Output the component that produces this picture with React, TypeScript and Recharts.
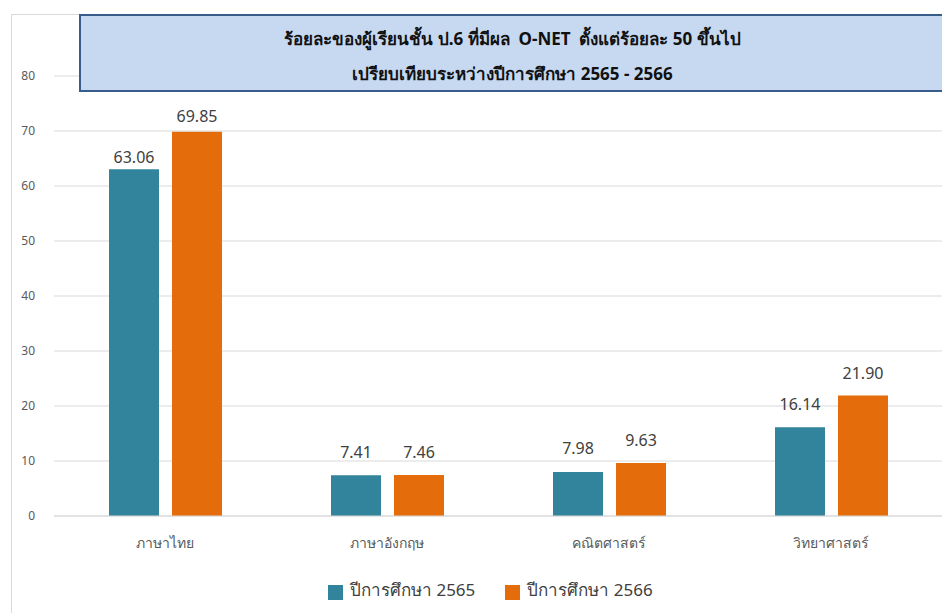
import { BarChart, Bar, XAxis, YAxis, CartesianGrid, LabelList } from 'recharts';

const subjects = ['ภาษาไทย', 'ภาษาอังกฤษ', 'คณิตศาสตร์', 'วิทยาศาสตร์'];
const year2565 = [63.06, 7.41, 7.98, 16.14];
const year2566 = [69.85, 7.46, 9.63, 21.9];
const yTicks = [0, 10, 20, 30, 40, 50, 60, 70, 80];
const seriesNames = ['ปีการศึกษา 2565', 'ปีการศึกษา 2566'];

// per-category label lift (Excel labels were nudged by hand)
const lift2565 = [6, 17, 18, 17];
const lift2566 = [10, 17, 17, 17];

const TEAL = '#31849B';
const ORANGE = '#E46C0A';
const FONT = '"Noto Sans", Tahoma, sans-serif';

const data = subjects.map((s, i) => ({
    subject: s,
    y2565: year2565[i],
    y2566: year2566[i],
}));

const makeLabel = (lifts: number[]) => (props: any) => {
    const { x, y, width, value, index } = props;
    return (
        <text
            x={x + width / 2}
            y={y - lifts[index]}
            textAnchor="middle"
            fontSize={16}
            fill="#404040"
            fontFamily={FONT}
        >
            {Number(value).toFixed(2)}
        </text>
    );
};

const App = () => {
    return (
        <div
            style={{
                position: 'absolute',
                left: 0,
                top: 0,
                width: 942,
                height: 613,
                background: '#fff',
                fontFamily: FONT,
                overflow: 'hidden',
            }}
        >
            <div
                style={{
                    position: 'absolute',
                    left: 11,
                    top: 14,
                    width: 940,
                    height: 610,
                    borderLeft: '1px solid #D9D9D9',
                    borderTop: '1px solid #D9D9D9',
                }}
            />
            <BarChart
                width={942}
                height={613}
                data={data}
                margin={{ top: 76, right: 0, bottom: 67, left: 0 }}
                barSize={50}
                barGap={13}
            >
                <CartesianGrid vertical={false} stroke="#D9D9D9" />
                <XAxis
                    dataKey="subject"
                    height={30}
                    axisLine={{ stroke: '#D9D9D9' }}
                    tickLine={false}
                    tickSize={0}
                    tickMargin={22}
                    tick={{ fontSize: 14, fill: '#595959', fontFamily: FONT }}
                />
                <YAxis
                    width={54}
                    domain={[0, 80]}
                    ticks={yTicks}
                    axisLine={false}
                    tickLine={false}
                    tickSize={0}
                    tickMargin={19}
                    tick={{ fontSize: 12, fill: '#595959', fontFamily: FONT }}
                />
                <Bar dataKey="y2565" name={seriesNames[0]} fill={TEAL} isAnimationActive={false}>
                    <LabelList dataKey="y2565" content={makeLabel(lift2565)} />
                </Bar>
                <Bar dataKey="y2566" name={seriesNames[1]} fill={ORANGE} isAnimationActive={false}>
                    <LabelList dataKey="y2566" content={makeLabel(lift2566)} />
                </Bar>
            </BarChart>
            <div
                style={{
                    position: 'absolute',
                    left: 79,
                    top: 14,
                    width: 880,
                    height: 74,
                    background: '#C6D9F1',
                    border: '2px solid #385D8A',
                    boxSizing: 'content-box',
                }}
            >
                <div
                    style={{
                        width: 863,
                        textAlign: 'center',
                        fontSize: 17,
                        fontWeight: 'bold',
                        color: '#111',
                        lineHeight: '35px',
                        paddingTop: 5,
                    }}
                >
                    <div>ร้อยละของผู้เรียนชั้น ป.6 ที่มีผล&nbsp; O-NET&nbsp; ตั้งแต่ร้อยละ 50 ขึ้นไป</div>
                    <div>เปรียบเทียบระหว่างปีการศึกษา 2565 - 2566</div>
                </div>
            </div>
            <div
                style={{
                    position: 'absolute',
                    left: 328,
                    top: 576,
                    display: 'flex',
                    alignItems: 'center',
                    fontSize: 17,
                    color: '#404040',
                }}
            >
                {seriesNames.map((n, i) => (
                    <div key={n} style={{ display: 'flex', alignItems: 'center', marginRight: 30 }}>
                        <span
                            style={{
                                width: 15,
                                height: 15,
                                background: i === 0 ? TEAL : ORANGE,
                                display: 'inline-block',
                                marginRight: 7,
                                marginTop: 6,
                            }}
                        />
                        <span>{n}</span>
                    </div>
                ))}
            </div>
        </div>
    );
};

export default App;
